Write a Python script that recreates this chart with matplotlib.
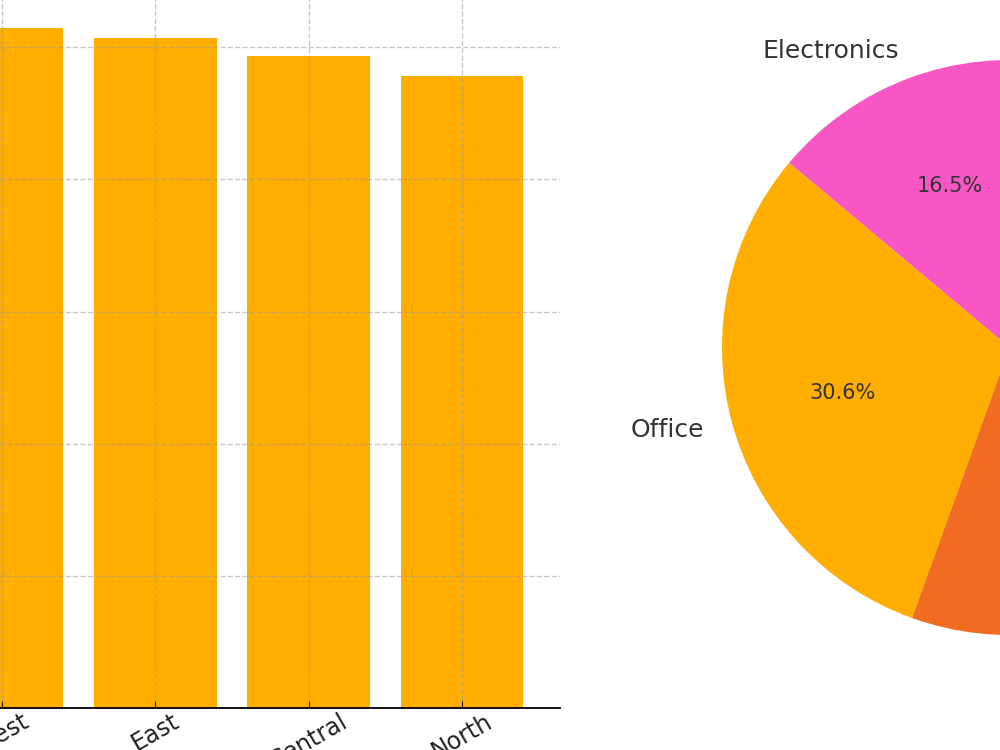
import matplotlib
matplotlib.use("Agg")
import matplotlib.pyplot as plt

# bar chart: sales by region (thousands)
regions = ["South", "West", "East", "Central", "North"]
region_sales = [265.0, 257.2, 253.4, 246.6, 239.0]

# pie chart: share by category
categories = ["Clothing", "Electronics", "Office", "Home"]
category_share = [22.4, 16.5, 30.6, 30.5]
pie_colors = ["#4fb3e8", "#f856c4", "#ffae00", "#f26b22"]

bar_color = "#ffae00"
text_color = "#333333"

fig = plt.figure(figsize=(10, 7.5), dpi=100)

# left axes, partly outside the figure
ax1 = fig.add_axes([-0.2494, 0.056, 0.8094, 0.9805])
ax1.bar(range(len(regions)), region_sales, width=0.8, color=bar_color)
ax1.set_xticks(range(len(regions)))
ax1.set_xticklabels(regions, rotation=30, ha="center", fontsize=17, color="#222222")
ax1.tick_params(axis="both", direction="in", length=5, color="#222222")
ax1.tick_params(axis="x", pad=1)
ax1.set_yticks([50, 100, 150, 200, 250])
ax1.grid(True, linestyle="--", color="#999999", alpha=0.55, linewidth=1)
ax1.set_axisbelow(False)
ax1.spines["top"].set_visible(False)
ax1.spines["right"].set_visible(False)
ax1.spines["bottom"].set_color("#000000")
ax1.spines["bottom"].set_linewidth(1.3)

# right axes, pie
ax2 = fig.add_axes([0.6501, 0.0575, 0.71875, 0.9583])
wedges, texts, autotexts = ax2.pie(category_share, labels=categories, colors=pie_colors,
                                   autopct="%1.1f%%", startangle=0, counterclock=True,
                                   textprops={"color": text_color})
for t in texts:
    t.set_fontsize(18)
for t in autotexts:
    t.set_fontsize(15)
ax2.set_xlim(-1.25, 1.25)
ax2.set_ylim(-1.25, 1.25)
ax2.set_aspect("equal")
ax2.axis("off")

plt.savefig("out.png", dpi=100)
